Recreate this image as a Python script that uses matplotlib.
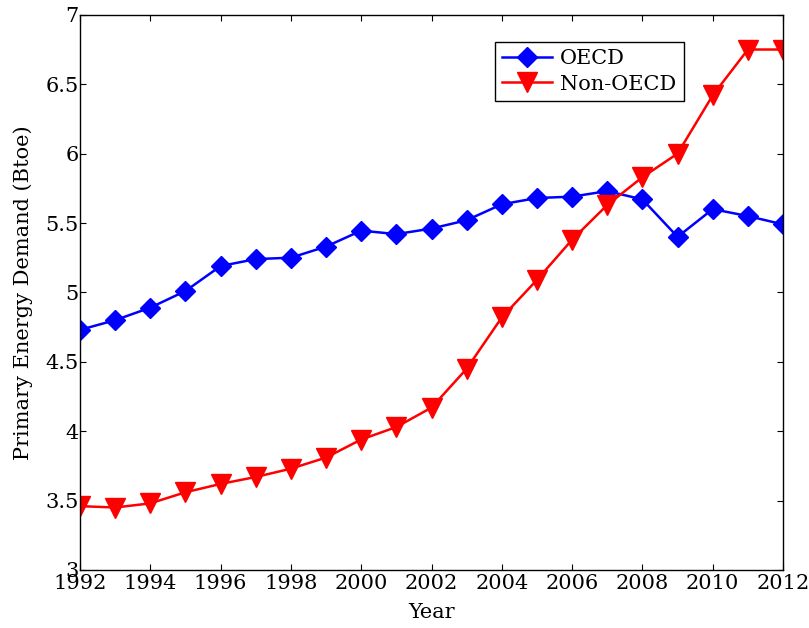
import matplotlib
matplotlib.use("Agg")
import matplotlib.pyplot as plt

years = list(range(1992, 2013))
oecd = [4.73, 4.80, 4.89, 5.01, 5.19, 5.24, 5.25, 5.33, 5.445, 5.42, 5.46, 5.52,
        5.635, 5.68, 5.69, 5.73, 5.67, 5.40, 5.60, 5.55, 5.49]
non_oecd = [3.46, 3.45, 3.48, 3.56, 3.62, 3.67, 3.73, 3.81, 3.94, 4.03, 4.17, 4.45,
            4.82, 5.09, 5.38, 5.63, 5.83, 6.00, 6.42, 6.75, 6.75]
x_ticks = list(range(1992, 2013, 2))
y_ticks = [3, 3.5, 4, 4.5, 5, 5.5, 6, 6.5, 7]
y_tick_labels = ["3", "3.5", "4", "4.5", "5", "5.5", "6", "6.5", "7"]

plt.rcParams["font.family"] = ["DejaVu Serif"]

fig = plt.figure(figsize=(8.09, 6.28), dpi=100)
ax = fig.add_axes([0.0989, 0.0924, 0.869, 0.884])

ax.plot(years, oecd, color="blue", marker="D", markersize=10.5, linewidth=1.8, label="OECD")
ax.plot(years, non_oecd, color="red", marker="v", markersize=14, linewidth=1.8, label="Non-OECD")

ax.set_xlim(1992, 2012)
ax.set_ylim(3, 7)
ax.set_xticks(x_ticks)
ax.set_yticks(y_ticks)
ax.set_yticklabels(y_tick_labels)
ax.tick_params(direction="in", top=True, right=True, labelsize=15, length=4)
ax.tick_params(axis="x", pad=3)
ax.tick_params(axis="y", pad=1)
for s in ax.spines.values():
    s.set_linewidth(1.0)

ax.set_xlabel("Year", fontsize=15, labelpad=7)
ax.set_ylabel("Primary Energy Demand (Btoe)", fontsize=15, labelpad=9)

leg = ax.legend(loc="upper right", bbox_to_anchor=(0.859, 0.951), fontsize=15,
                fancybox=False, edgecolor="black", framealpha=1, borderaxespad=0,
                handlelength=2.4, numpoints=1, handletextpad=0.4,
                borderpad=0.35, labelspacing=0.3)
leg.get_frame().set_linewidth(1.0)

fig.savefig("out.png", dpi=100)
